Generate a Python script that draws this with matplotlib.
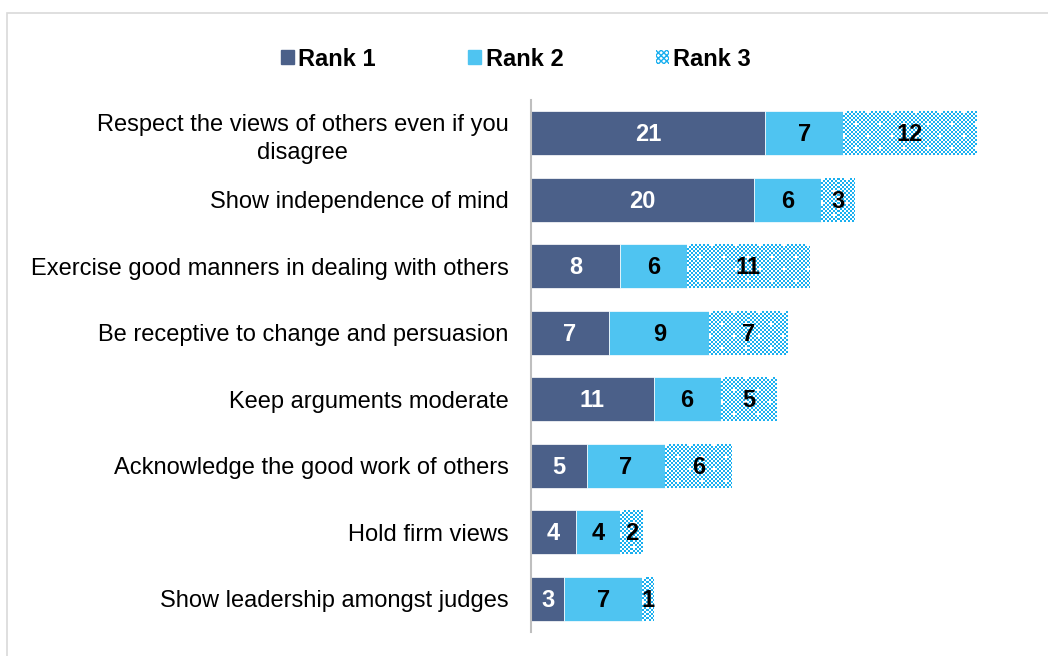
import matplotlib.pyplot as plt
import matplotlib.patches as mpatches
import numpy as np

plt.rcParams['font.family'] = ['Liberation Sans', 'DejaVu Sans']

# Survey data: how often each quality was ranked 1st, 2nd, 3rd
categories = ['Respect the views of others even if you\ndisagree',
              'Show independence of mind',
              'Exercise good manners in dealing with others',
              'Be receptive to change and persuasion',
              'Keep arguments moderate',
              'Acknowledge the good work of others',
              'Hold firm views',
              'Show leadership amongst judges']
rank1 = [21, 20, 8, 7, 11, 5, 4, 3]
rank2 = [7, 6, 6, 9, 6, 7, 4, 7]
rank3 = [12, 3, 11, 7, 5, 6, 2, 1]
series_names = ['Rank 1', 'Rank 2', 'Rank 3']

c_rank1 = '#4B6089'
c_rank2 = '#4FC4F1'
c_check = '#1AAFEF'

fig = plt.figure(figsize=(10.48, 6.56), dpi=100)
ax = fig.add_axes([531/1048, 1 - 632/656, 1 - 531/1048 - 0.004, (632 - 100)/656])

# light outer frame
fig.patches.append(mpatches.Rectangle((7/1048, -0.1), 1.2, 1 - 13/656 + 0.1,
                                      transform=fig.transFigure, fill=False,
                                      edgecolor='#D9D9D9', linewidth=1.2))

y = np.arange(len(categories))
h = 0.66
ax.set_xlim(0, 46)
ax.set_ylim(len(categories) - 0.5, -0.5)

b1 = ax.barh(y, rank1, height=h, color=c_rank1, edgecolor='white', linewidth=0.5)
b2 = ax.barh(y, rank2, left=rank1, height=h, color=c_rank2, edgecolor='white', linewidth=0.5)
left3 = np.array(rank1) + np.array(rank2)
b3 = ax.barh(y, rank3, left=left3, height=h, color='white', edgecolor='none')


def checker(w_px, h_px, cell=2):
    jj, ii = np.meshgrid(np.arange(w_px), np.arange(h_px))
    on = ((ii // cell + jj // cell) % 2) == 0
    # sparse white dots sprinkled in the pattern
    dots = ((ii % 12) < 2) & ((jj % 12) < 2) & (((ii // 12 + jj // 12) % 2) == 0)
    on = on & ~dots
    rgb = np.ones((h_px, w_px, 3))
    blue = np.array([int(c_check[k:k + 2], 16) / 255 for k in (1, 3, 5)])
    rgb[on] = blue
    return rgb


# fill Rank 3 bars with a checker texture clipped to each bar
for bar in b3:
    x0, yb = bar.get_x(), bar.get_y()
    x1, yt = x0 + bar.get_width(), yb + bar.get_height()
    (px0, py0), (px1, py1) = ax.transData.transform([(x0, yb), (x1, yt)])
    w_px = max(int(round(abs(px1 - px0))), 1)
    h_px = max(int(round(abs(py1 - py0))), 1)
    im = ax.imshow(checker(w_px, h_px), extent=(x0, x1, yt, yb),
                   interpolation='nearest', aspect='auto', zorder=bar.get_zorder() + 0.1)
    im.set_clip_path(bar)
ax.set_xlim(0, 46)
ax.set_ylim(len(categories) - 0.5, -0.5)

# value labels in the middle of each segment
for i in range(len(categories)):
    ax.text(rank1[i] / 2, y[i] + 0.02, str(rank1[i]), ha='center', va='center',
            color='white', fontsize=17, fontweight='bold')
    ax.text(rank1[i] + rank2[i] / 2, y[i] + 0.02, str(rank2[i]), ha='center', va='center',
            color='black', fontsize=17, fontweight='bold')
    ax.text(left3[i] + rank3[i] / 2, y[i] + 0.02, str(rank3[i]), ha='center', va='center',
            color='black', fontsize=17, fontweight='bold', zorder=5)

ax.set_yticks(y)
ax.set_yticklabels(categories, fontsize=17, multialignment='center', linespacing=1.35)
ax.tick_params(axis='y', length=0, pad=16)
ax.set_xticks([])
for s in ['top', 'right', 'bottom']:
    ax.spines[s].set_visible(False)
ax.spines['left'].set_color('#BFBFBF')
ax.spines['left'].set_linewidth(1.5)

# legend
handles = [mpatches.Patch(color=c_rank1),
           mpatches.Patch(color=c_rank2),
           mpatches.Patch(facecolor='white', edgecolor=c_check, hatch='xxxxxx', linewidth=0)]
fig.legend(handles, series_names, loc='center', bbox_to_anchor=(516/1048, 1 - 59/656),
           ncol=3, frameon=False, prop={'weight': 'bold', 'size': 17},
           handlelength=0.55, handleheight=0.55, handletextpad=0.2, columnspacing=3.9)

plt.savefig('out.png', dpi=100)
